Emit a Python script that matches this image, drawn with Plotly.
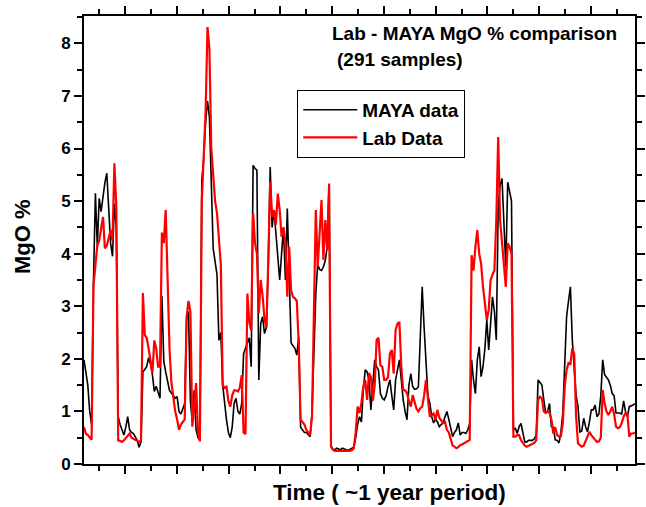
import plotly.graph_objects as go

# Sample index (291 samples over ~1 year)
samples = list(range(291))

maya = [
    1.98, 1.75, 1.5, 1.0, 0.75, 3.5, 5.15, 4.15, 5.05, 4.8,
    5.1, 5.35, 5.53, 4.9, 4.2, 3.95, 4.95, 4.5, 0.9, 0.75,
    0.65, 0.55, 0.7, 0.9, 0.65, 0.6, 0.58, 0.5, 0.45, 0.32,
    0.42, 1.75, 1.8, 1.85, 2.02, 1.9, 1.7, 1.38, 1.48, 1.35,
    1.25, 3.2, 1.95, 1.75, 1.6, 1.4, 1.35, 1.3, 1.25, 1.28,
    1.0, 0.95, 1.05, 1.15, 2.75, 2.9, 1.2, 0.8, 1.4, 0.65,
    0.5, 0.45, 5.4, 5.8, 6.5, 6.9, 6.6, 5.5, 4.1, 3.85,
    3.6, 2.35, 2.5, 1.5, 1.1, 0.84, 0.6, 0.5, 0.7, 1.15,
    1.25, 1.0, 0.95, 1.15, 2.1, 2.2, 2.3, 2.4, 1.85, 5.68,
    5.62, 5.59, 1.6, 2.67, 2.8, 2.48, 2.6, 3.8, 5.65, 4.5,
    4.83, 4.4, 4.1, 3.5, 4.0, 4.5, 3.5, 4.86, 3.6, 2.3,
    2.25, 2.2, 2.07, 2.42, 0.7, 0.65, 0.6, 0.6, 0.55, 0.52,
    0.95, 2.2, 3.24, 3.8, 3.7, 3.68, 3.75, 3.87, 4.13, 5.33,
    0.35, 0.28, 0.27, 0.3, 0.28, 0.27, 0.3, 0.28, 0.27, 0.26,
    0.28, 0.3, 0.32, 0.5, 0.75, 0.9, 0.8, 1.4, 1.79, 1.75,
    1.6, 1.03, 1.6, 1.98, 1.85, 1.79, 1.34, 1.25, 1.22, 1.3,
    1.47, 1.6, 1.3, 1.03, 1.6, 1.8, 1.98, 1.6, 1.22, 1.0,
    0.84, 1.5, 1.72, 1.47, 1.42, 1.43, 1.47, 2.42, 3.37, 2.6,
    1.8, 1.3, 1.16, 0.9, 0.78, 0.85, 0.8, 0.71, 0.75, 0.78,
    0.9, 1.0, 0.85, 0.7, 0.52, 0.6, 0.65, 0.78, 0.55, 0.6,
    0.6, 0.58, 0.65, 0.77, 1.98, 1.6, 1.34, 1.98, 2.23, 1.66,
    1.85, 2.2, 2.74, 2.17, 2.7, 3.18, 2.9, 2.36, 4.9, 5.3,
    5.43, 4.5, 3.75, 5.36, 5.2, 5.0, 0.65, 0.68, 0.58, 0.71,
    0.77, 0.6, 0.42, 0.42, 0.45, 0.45, 0.45, 0.48, 0.55, 1.6,
    1.55, 1.5, 1.22, 0.97, 1.0, 1.15, 0.71, 0.7, 0.46, 0.45,
    0.4, 0.6, 0.97, 2.1, 2.8, 3.1, 3.37, 2.36, 1.85, 1.3,
    1.09, 0.61, 0.63, 0.87, 0.71, 0.61, 0.8, 1.03, 1.03, 1.12,
    0.9, 0.95, 1.3, 1.98, 1.7, 1.66, 1.6, 1.5, 1.34, 1.3,
    0.97, 0.97, 0.97, 0.95, 1.2, 1.0, 0.9, 1.09, 1.1, 1.12, 1.15,
]

lab = [
    0.7, 0.58, 0.55, 0.5, 0.46, 3.4, 3.8, 4.15, 4.25, 4.5,
    4.7, 4.1, 4.15, 4.3, 4.45, 4.25, 5.72, 4.9, 0.45, 0.44,
    0.42, 0.45, 0.5, 0.55, 0.58, 0.5, 0.48, 0.45, 0.43, 0.42,
    0.45, 3.25, 2.45, 2.4, 2.2, 2.0, 1.73, 2.35, 2.2, 1.85,
    1.85, 4.4, 4.2, 4.83, 3.3, 2.2, 1.55, 1.3, 1.0, 0.85,
    0.65, 0.75, 0.8, 0.85, 2.8, 3.1, 2.9, 0.71, 1.1, 1.54,
    0.6, 0.43, 5.0, 5.9, 6.7, 8.31, 7.9, 6.0, 5.4, 5.0,
    4.77, 4.3, 3.8, 1.5, 1.45, 1.47, 1.2, 1.09, 1.3, 1.4,
    1.4, 1.38, 1.45, 1.69, 0.6, 0.57, 3.24, 2.7, 2.54, 4.77,
    4.2, 4.0, 2.87, 3.5, 3.2, 2.75, 2.6, 3.88, 5.37, 4.7,
    4.83, 4.55, 5.14, 4.83, 4.32, 4.5, 4.2, 3.18, 4.13, 3.3,
    3.18, 3.15, 3.1, 2.3, 0.84, 0.8, 0.75, 0.65, 0.6, 0.55,
    0.9, 2.8, 4.83, 3.75, 4.4, 5.02, 3.88, 4.64, 4.07, 5.33,
    0.33, 0.27, 0.25, 0.25, 0.24, 0.25, 0.25, 0.24, 0.24, 0.25,
    0.25, 0.26, 0.3, 0.6, 1.09, 0.97, 1.16, 1.47, 1.6, 1.22,
    1.73, 1.65, 1.2, 1.5, 2.36, 2.4, 1.88, 1.85, 1.6, 1.6,
    1.65, 2.1, 2.17, 1.72, 2.55, 2.67, 2.7, 1.85, 1.41, 1.4,
    1.35, 1.2, 1.09, 1.31, 1.16, 1.05, 1.0, 1.06, 1.09, 1.3,
    1.6, 1.18, 0.9, 0.93, 0.96, 0.84, 1.03, 0.88, 0.82, 0.78,
    0.8, 0.65, 0.6, 0.45, 0.35, 0.33, 0.3, 0.32, 0.36, 0.37,
    0.39, 0.42, 0.44, 0.46, 3.97, 3.68, 4.13, 4.45, 4.0, 3.81,
    3.37, 2.98, 2.74, 2.93, 3.5, 3.6, 3.68, 4.64, 6.22, 4.64,
    4.2, 3.88, 3.37, 4.2, 4.13, 4.0, 0.52, 0.52, 0.55, 0.55,
    0.45, 0.4, 0.35, 0.33, 0.35, 0.37, 0.38, 0.4, 0.45, 1.22,
    1.28, 1.25, 1.0, 0.97, 1.0, 0.97, 0.85, 0.58, 0.7, 0.55,
    0.52, 0.53, 0.77, 1.47, 1.79, 1.92, 1.9, 2.2, 2.1, 0.9,
    0.39, 0.36, 0.33, 0.35, 0.45, 0.55, 0.61, 0.55, 0.5, 0.46,
    0.42, 0.43, 0.5, 1.41, 1.15, 1.0, 0.93, 1.0, 1.09, 0.95,
    0.71, 0.68, 0.7, 0.78, 0.9, 0.97, 0.95, 0.52, 0.58, 0.58, 0.6,
]

series_names = ["MAYA data", "Lab Data"]
title_line1 = "Lab - MAYA MgO % comparison"
title_line2 = "(291 samples)"
x_title = "Time ( ~1 year period)"
y_title = "MgO %"

FONT = "Liberation Sans, Arial, sans-serif"

# x tick positions (in sample units) - unlabeled time ticks
tick_period = 27.23
major_ticks = [21.7 + tick_period * k for k in range(11)]
minor_ticks = [8.1 + tick_period * k for k in range(11)]

fig = go.Figure()
fig.add_trace(go.Scatter(x=samples, y=maya, mode="lines", name=series_names[0],
                         line=dict(color="black", width=1.6)))
fig.add_trace(go.Scatter(x=samples, y=lab, mode="lines", name=series_names[1],
                         line=dict(color="#ff0000", width=2.2)))

fig.update_layout(
    width=646, height=507,
    margin=dict(l=84, r=1, t=16, b=43),
    paper_bgcolor="white", plot_bgcolor="white",
    font=dict(family=FONT, color="black"),
    showlegend=True,
    legend=dict(x=0.387, y=0.835, xanchor="left", yanchor="top",
                bgcolor="white", bordercolor="black", borderwidth=1,
                font=dict(family=FONT, size=19, color="black", weight="bold"),
                itemwidth=54, tracegroupgap=0),
    xaxis=dict(range=[0, 290], showgrid=False, zeroline=False,
               showline=True, linecolor="black", linewidth=2, mirror="allticks",
               tickmode="array", tickvals=major_ticks, ticks="outside",
               ticklen=8, tickwidth=2, tickcolor="black", showticklabels=False,
               minor=dict(tickmode="array", tickvals=minor_ticks, ticks="outside",
                          ticklen=5, tickwidth=2, tickcolor="black", showgrid=False)),
    yaxis=dict(range=[0, 8.52], showgrid=False, zeroline=False,
               showline=True, linecolor="black", linewidth=2, mirror="allticks",
               tickmode="linear", tick0=0, dtick=1, ticks="outside",
               ticklen=8, tickwidth=2, tickcolor="black",
               tickfont=dict(family=FONT, size=17, color="black", weight="bold"),
               minor=dict(dtick=0.5, ticks="outside", ticklen=5, tickwidth=2,
                          tickcolor="black", showgrid=False)),
)

fig.add_annotation(text=title_line1, xref="paper", yref="paper", x=0.446, y=0.962,
                   xanchor="left", yanchor="middle", showarrow=False,
                   font=dict(family=FONT, size=19, color="black", weight="bold"))
fig.add_annotation(text=title_line2, xref="paper", yref="paper", x=0.455, y=0.902,
                   xanchor="left", yanchor="middle", showarrow=False,
                   font=dict(family=FONT, size=19, color="black", weight="bold"))
fig.add_annotation(text=x_title, xref="paper", yref="paper", x=0.5545, y=-0.0647,
                   xanchor="center", yanchor="middle", showarrow=False,
                   font=dict(family=FONT, size=22.5, color="black", weight="bold"))
fig.add_annotation(text=y_title, xref="paper", yref="paper", x=-0.1105, y=0.507,
                   xanchor="center", yanchor="middle", showarrow=False, textangle=-90,
                   font=dict(family=FONT, size=22, color="black", weight="bold"))

fig.write_html("out.html")
